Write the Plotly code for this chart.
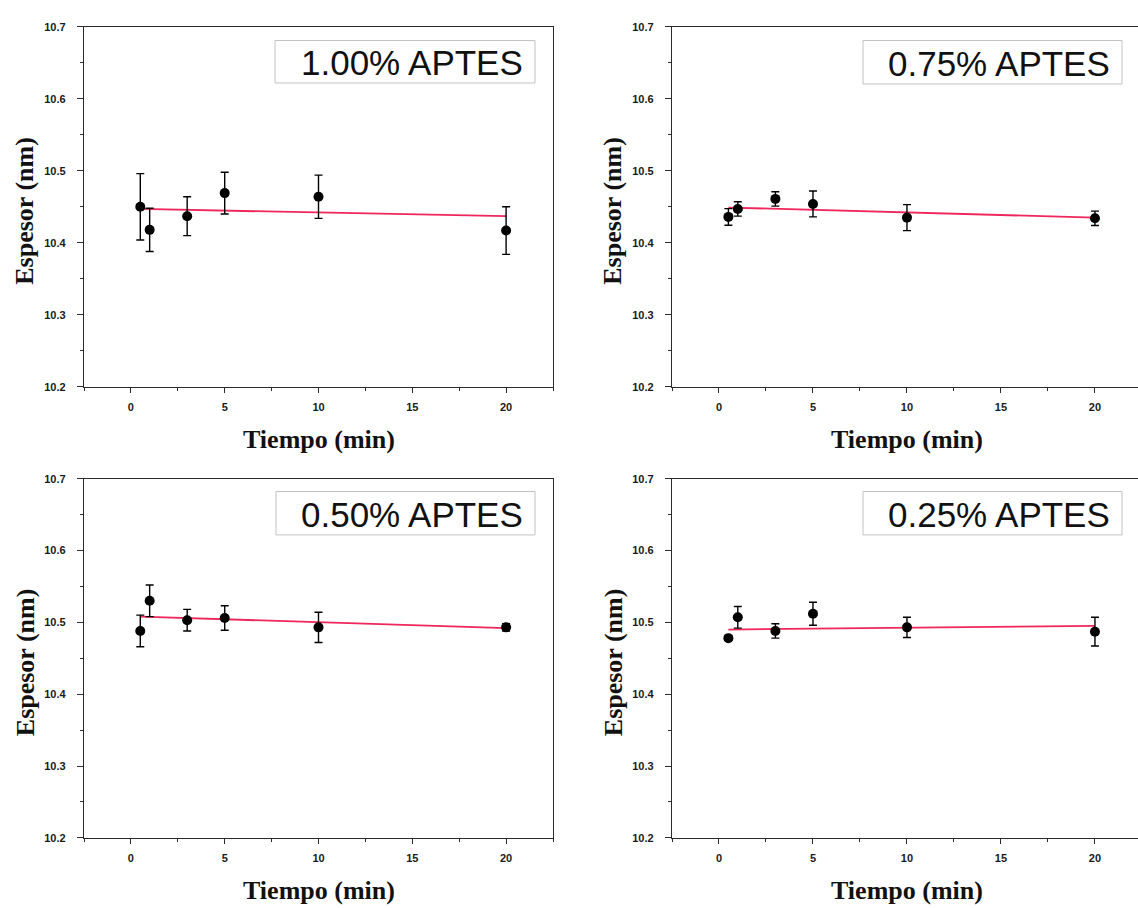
import plotly.graph_objects as go

# Measured film thickness vs. silanization time for four APTES concentrations
tiempo = [0.5, 1, 3, 5, 10, 20]
etiquetas = ["1.00% APTES", "0.75% APTES", "0.50% APTES", "0.25% APTES"]

espesor_100 = [10.450, 10.418, 10.437, 10.469, 10.464, 10.417]
error_100 = [0.046, 0.030, 0.027, 0.029, 0.030, 0.033]
espesor_075 = [10.436, 10.447, 10.461, 10.454, 10.435, 10.434]
error_075 = [0.0115, 0.010, 0.010, 0.018, 0.018, 0.010]
espesor_050 = [10.488, 10.530, 10.503, 10.506, 10.493, 10.493]
error_050 = [0.022, 0.022, 0.015, 0.017, 0.021, 0.005]
espesor_025 = [10.478, 10.507, 10.488, 10.512, 10.493, 10.487]
error_025 = [0.003, 0.015, 0.010, 0.016, 0.014, 0.020]

# Linear fit end points for each concentration
ajuste_x = [0.5, 20]
ajuste_100 = [10.447, 10.437]
ajuste_075 = [10.449, 10.435]
ajuste_050 = [10.508, 10.492]
ajuste_025 = [10.490, 10.495]

y_ticks = [10.2, 10.3, 10.4, 10.5, 10.6, 10.7]
x_ticks = [0, 5, 10, 15, 20]

W, H = 1138, 908


def px(x):
    return x / W


def py(y):
    return 1 - y / H


series = [
    (espesor_100, error_100, ajuste_100),
    (espesor_075, error_075, ajuste_075),
    (espesor_050, error_050, ajuste_050),
    (espesor_025, error_025, ajuste_025),
]

# Panel geometry in pixels: plot-area left/right, top/bottom, x range end, label box
paneles = [
    dict(x0=84, x1=553, y0=21, y1=386, xmax=22.5, box=(275, 35, 535, 78), mirror_y=True),
    dict(x0=672, x1=1138, y0=21, y1=386, xmax=22.29, box=(863, 35, 1122, 79), mirror_y=False),
    dict(x0=84, x1=553, y0=479, y1=843, xmax=22.5, box=(276, 492, 535, 536), mirror_y=True),
    dict(x0=672, x1=1138, y0=479, y1=843, xmax=22.29, box=(863, 492, 1122, 536), mirror_y=False),
]

ROJO = "#f0265a"
EJE = "#2a2a2a"
tick_font = dict(family="Liberation Sans", size=11, color="#1a1a1a", weight="bold")
title_font = dict(family="Liberation Serif", size=26, color="#111111", weight="bold")

fig = go.Figure()
shapes = []
annotations = []

for i, ((y, err, fit), p) in enumerate(zip(series, paneles)):
    n = "" if i == 0 else str(i + 1)
    xa, ya = "x" + n, "y" + n

    fig.add_trace(go.Scatter(
        x=ajuste_x, y=fit, mode="lines", xaxis=xa, yaxis=ya,
        line=dict(color=ROJO, width=1.8), showlegend=False, hoverinfo="skip",
    ))
    fig.add_trace(go.Scatter(
        x=tiempo, y=y, mode="markers", xaxis=xa, yaxis=ya,
        marker=dict(color="black", size=10, symbol="circle"),
        error_y=dict(type="data", array=err, visible=True, color="black",
                     thickness=1.4, width=4),
        showlegend=False,
    ))

    fig.update_layout(**{
        "xaxis" + n: dict(
            domain=[px(p["x0"]), px(p["x1"])], range=[-2.5, p["xmax"]],
            anchor=ya, tickvals=x_ticks, ticks="outside", ticklen=5, tickwidth=1.2,
            tickcolor=EJE, showline=True, linecolor=EJE, linewidth=1.3,
            mirror=True, showgrid=False, zeroline=False, tickfont=tick_font,
            ticklabelstandoff=5,
            minor=dict(dtick=2.5, tick0=0, ticks="outside", ticklen=3, tickcolor=EJE),
        ),
        "yaxis" + n: dict(
            domain=[py(p["y1"]), py(p["y0"])], range=[10.2, 10.7],
            anchor=xa, tickvals=y_ticks, tickformat=".1f", ticks="outside",
            ticklen=6, tickwidth=1.2, tickcolor=EJE, showline=True, linecolor=EJE,
            linewidth=1.3, mirror=p["mirror_y"], showgrid=False, zeroline=False,
            tickfont=tick_font, ticklabelstandoff=9,
            minor=dict(dtick=0.05, tick0=10.2, ticks="outside", ticklen=3, tickcolor=EJE),
        ),
    })

    bx0, by0, bx1, by1 = p["box"]
    shapes.append(dict(
        type="rect", xref="paper", yref="paper",
        x0=px(bx0), x1=px(bx1), y0=py(by1), y1=py(by0),
        line=dict(color="#c4c0c2", width=1), fillcolor="white", layer="above",
    ))
    annotations.append(dict(
        text=etiquetas[i], xref="paper", yref="paper",
        x=px(bx1 - 10), y=py((by0 + by1) / 2 + 1), xanchor="right", yanchor="middle",
        showarrow=False, font=dict(family="Liberation Sans", size=35, color="#111111"),
    ))

    # axis titles
    xc = (p["x0"] + (p["x0"] + 25 * 18.76)) / 2
    annotations.append(dict(
        text="Tiempo (min)", xref="paper", yref="paper",
        x=px(xc), y=py(p["y1"] + 53), xanchor="center", yanchor="middle",
        showarrow=False, font=title_font,
    ))
    annotations.append(dict(
        text="Espesor (nm)", xref="paper", yref="paper",
        x=px(p["x0"] - 59), y=py((p["y0"] + p["y1"]) / 2 + 4), xanchor="center",
        yanchor="middle", textangle=-90, showarrow=False, font=title_font,
    ))

fig.update_layout(
    width=W, height=H, margin=dict(l=0, r=0, t=0, b=0),
    paper_bgcolor="white", plot_bgcolor="white",
    shapes=shapes, annotations=annotations, showlegend=False,
)

fig.write_html("out.html")
